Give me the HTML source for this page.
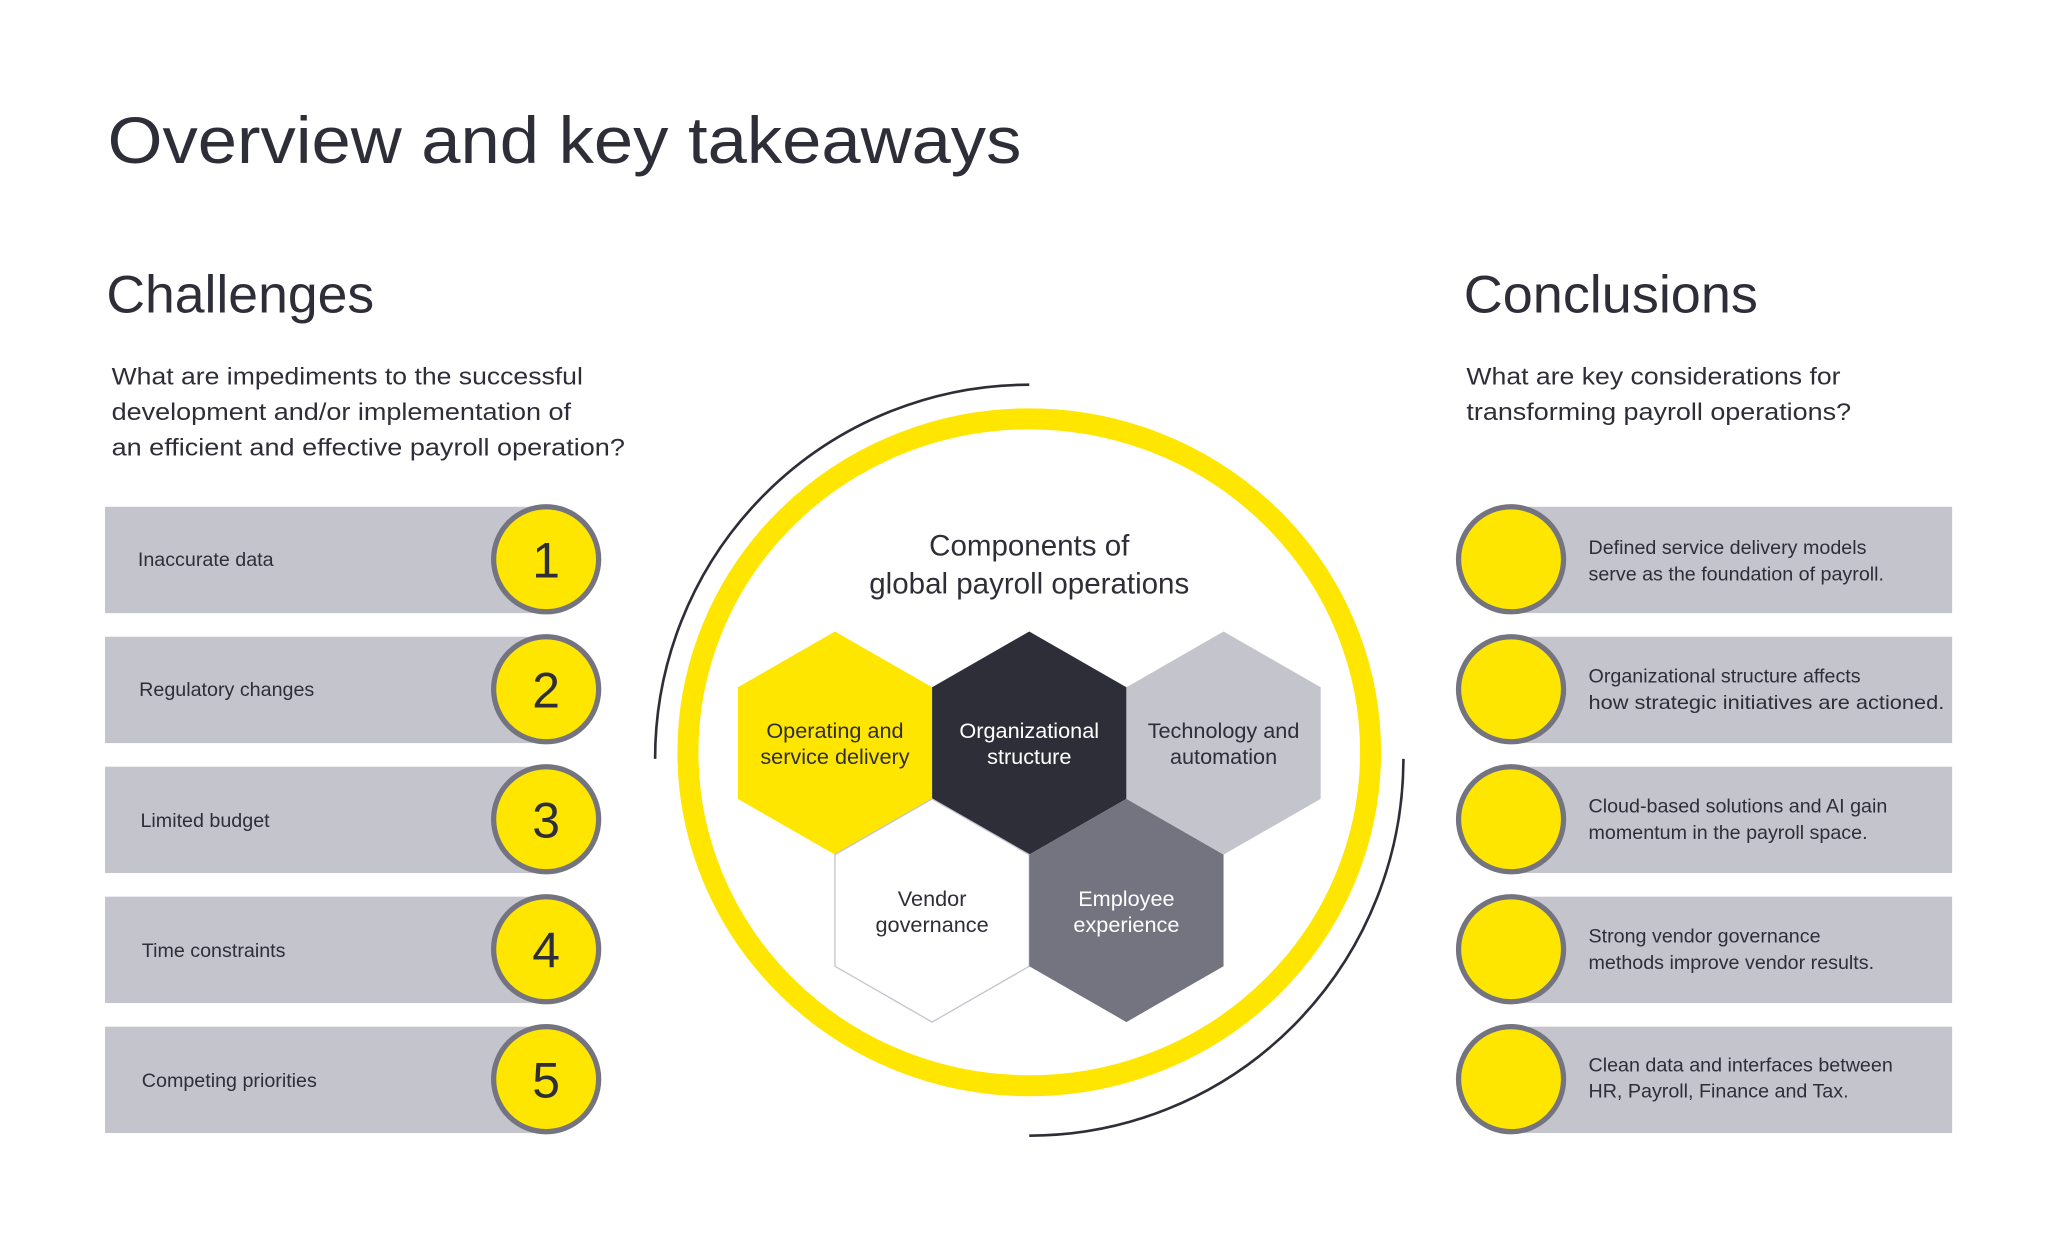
<!DOCTYPE html>
<html><head><meta charset="utf-8"><style>
html,body{margin:0;padding:0;background:#fff;}
svg{display:block;}
text{font-family:"Liberation Sans",sans-serif;fill:#2e2e38;}
</style></head><body>
<svg width="2048" height="1242" viewBox="0 0 1560 946" xmlns="http://www.w3.org/2000/svg">
<rect width="1560" height="946" fill="#fff"/>
<text x="82" y="124" font-size="50" textLength="696" lengthAdjust="spacingAndGlyphs">Overview and key takeaways</text>
<text x="81" y="238" font-size="40" textLength="204" lengthAdjust="spacingAndGlyphs">Challenges</text>
<text x="1115" y="238" font-size="40" textLength="224" lengthAdjust="spacingAndGlyphs">Conclusions</text>
<g font-size="18.5">
<text x="85" y="293" textLength="359" lengthAdjust="spacingAndGlyphs">What are impediments to the successful</text>
<text x="85" y="320" textLength="350" lengthAdjust="spacingAndGlyphs">development and/or implementation of</text>
<text x="85" y="347" textLength="391" lengthAdjust="spacingAndGlyphs">an efficient and effective payroll operation?</text>
<text x="1117" y="293" textLength="285" lengthAdjust="spacingAndGlyphs">What are key considerations for</text>
<text x="1117" y="320" textLength="293" lengthAdjust="spacingAndGlyphs">transforming payroll operations?</text>
</g>
<!-- left bars -->
<g fill="#c4c4cd">
<rect x="80" y="386" width="345" height="81"/>
<rect x="80" y="485" width="345" height="81"/>
<rect x="80" y="584" width="345" height="81"/>
<rect x="80" y="683" width="345" height="81"/>
<rect x="80" y="782" width="345" height="81"/>
<rect x="1150" y="386" width="337" height="81"/>
<rect x="1150" y="485" width="337" height="81"/>
<rect x="1150" y="584" width="337" height="81"/>
<rect x="1150" y="683" width="337" height="81"/>
<rect x="1150" y="782" width="337" height="81"/>
</g>
<g fill="#ffe600" stroke="#747480" stroke-width="4">
<circle cx="416" cy="426" r="40"/>
<circle cx="416" cy="525" r="40"/>
<circle cx="416" cy="624" r="40"/>
<circle cx="416" cy="723" r="40"/>
<circle cx="416" cy="822" r="40"/>
<circle cx="1151" cy="426" r="40"/>
<circle cx="1151" cy="525" r="40"/>
<circle cx="1151" cy="624" r="40"/>
<circle cx="1151" cy="723" r="40"/>
<circle cx="1151" cy="822" r="40"/>
</g>
<g font-size="38" text-anchor="middle">
<text x="416" y="440">1</text>
<text x="416" y="539">2</text>
<text x="416" y="638">3</text>
<text x="416" y="737">4</text>
<text x="416" y="836">5</text>
</g>
<g font-size="15">
<text x="105" y="431">Inaccurate data</text>
<text x="106" y="530">Regulatory changes</text>
<text x="107" y="630">Limited budget</text>
<text x="108" y="729">Time constraints</text>
<text x="108" y="828">Competing priorities</text>
</g>
<g font-size="15">
<text x="1210" y="422">Defined service delivery models</text>
<text x="1210" y="442">serve as the foundation of payroll.</text>
<text x="1210" y="520">Organizational structure affects</text>
<text x="1210" y="540" textLength="271" lengthAdjust="spacingAndGlyphs">how strategic initiatives are actioned.</text>
<text x="1210" y="619">Cloud-based solutions and AI gain</text>
<text x="1210" y="639">momentum in the payroll space.</text>
<text x="1210" y="718">Strong vendor governance</text>
<text x="1210" y="738">methods improve vendor results.</text>
<text x="1210" y="816">Clean data and interfaces between</text>
<text x="1210" y="836">HR, Payroll, Finance and Tax.</text>
</g>
<!-- center -->
<ellipse cx="784" cy="573" rx="260" ry="254" fill="none" stroke="#ffe600" stroke-width="16"/>
<path d="M784 293 A285 285 0 0 0 499 578" fill="none" stroke="#2e2e38" stroke-width="2"/>
<path d="M1069 578 A285 287 0 0 1 784 865" fill="none" stroke="#2e2e38" stroke-width="2"/>
<g font-size="22.5" text-anchor="middle">
<text x="784" y="423">Components of</text>
<text x="784" y="452">global payroll operations</text>
</g>
<polygon points="636,481 710,523.5 710,608.5 636,651 562,608.5 562,523.5" fill="#ffe600"/>
<polygon points="784,481 858,523.5 858,608.5 784,651 710,608.5 710,523.5" fill="#2e2e38"/>
<polygon points="932,481 1006,523.5 1006,608.5 932,651 858,608.5 858,523.5" fill="#c4c4cd"/>
<polygon points="710,608.5 784,651 784,736 710,778.5 636,736 636,651" fill="#fff" stroke="#c4c4cd" stroke-width="1"/>
<polygon points="858,608.5 932,651 932,736 858,778.5 784,736 784,651" fill="#747480"/>
<g font-size="16.5" text-anchor="middle">
<text x="636" y="562">Operating and</text>
<text x="636" y="582">service delivery</text>
<text x="784" y="562" style="fill:#fff">Organizational</text>
<text x="784" y="582" style="fill:#fff">structure</text>
<text x="932" y="562">Technology and</text>
<text x="932" y="582">automation</text>
<text x="710" y="690">Vendor</text>
<text x="710" y="710">governance</text>
<text x="858" y="690" style="fill:#fff">Employee</text>
<text x="858" y="710" style="fill:#fff">experience</text>
</g>
</svg>
</body></html>
